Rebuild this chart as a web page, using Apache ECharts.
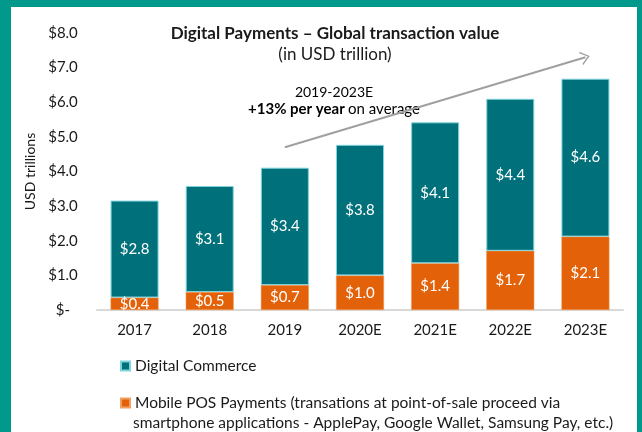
<!DOCTYPE html>
<html>
<head>
<meta charset="utf-8">
<script src="https://cdn.jsdelivr.net/npm/echarts@6/dist/echarts.min.js"></script>
<style>
  html, body { margin: 0; padding: 0; }
  .frame { width: 642px; height: 432px; background: #00998c; position: relative; overflow: hidden; }
  #chart { position: absolute; left: 11px; top: 7px; width: 626px; height: 425px; background: #fff; }
</style>
</head>
<body>
<div class="frame"><div id="chart"></div></div>
<script>
const years = ['2017', '2018', '2019', '2020E', '2021E', '2022E', '2023E'];
const mobilePos = [0.36, 0.52, 0.72, 1.0, 1.35, 1.71, 2.12];
const digitalCommerce = [2.8, 3.06, 3.39, 3.77, 4.07, 4.39, 4.56];
const yTicks = [0, 1, 2, 3, 4, 5, 6, 7, 8];

const font = 'Lato, "Noto Sans", sans-serif';
const posLine1 = 'Mobile POS Payments (transations at point-of-sale proceed via';
const posLine2 = 'smartphone applications - ApplePay, Google Wallet, Samsung Pay, etc.)';
const posName = posLine1 + ' ' + posLine2;

const chart = echarts.init(document.getElementById('chart'));

const fmt = v => '$' + v.toFixed(1);

chart.setOption({
  animation: false,
  textStyle: {fontFamily: font},
  grid: {left: 86, right: 14, top: 26, bottom: 122},
  graphic: [
    {
      type: 'text', x: 324, y: 18,
      style: {text: 'Digital Payments \u2013 Global transaction value', font: 'bold 17px ' + font, fill: '#1a1a1a', align: 'center'}
    },
    {
      type: 'text', x: 324, y: 39,
      style: {text: '(in USD trillion)', font: '17px ' + font, fill: '#1a1a1a', align: 'center'}
    },
    {
      type: 'text', x: 323, y: 77,
      style: {
        text: '{t|2019-2023E}\n{b|+13% per year} {n|on average}',
        align: 'center',
        rich: {
          t: {fontSize: 14, fontFamily: font, color: '#8a8a98', lineHeight: 17},
          n: {fontSize: 15, fontFamily: font, color: '#8a8a98', lineHeight: 17},
          b: {fontSize: 15, fontFamily: font, fontWeight: 'bold', color: '#747484', lineHeight: 17}
        }
      }
    },
    {
      type: 'text', x: 122, y: 408,
      style: {text: posLine2, font: '15.5px ' + font, fill: '#1a1a1a'}
    }
  ],
  legend: {
    orient: 'vertical',
    left: 104,
    top: 346,
    itemWidth: 9,
    itemHeight: 9,
    itemGap: 21,
    icon: 'rect',
    textStyle: {fontSize: 15.5, color: '#1a1a1a', fontFamily: font},
    formatter: name => name === posName ? posLine1 : name,
    data: ['Digital Commerce', posName]
  },
  xAxis: {
    type: 'category',
    data: years,
    axisLine: {lineStyle: {color: '#d9d9d9', width: 2}},
    axisTick: {show: false},
    axisLabel: {fontSize: 15, color: '#1a1a1a', margin: 13}
  },
  yAxis: {
    type: 'value',
    min: 0,
    max: 8,
    interval: 1,
    name: 'USD trillions',
    nameLocation: 'middle',
    nameGap: 60,
    nameTextStyle: {fontSize: 14, color: '#1a1a1a'},
    axisLine: {show: false},
    splitLine: {show: false},
    axisLabel: {
      fontSize: 15, color: '#1a1a1a', margin: 34, align: 'center',
      formatter: v => yTicks.includes(v) ? (v === 0 ? '$-' : fmt(v)) : ''
    }
  },
  series: [
    {
      name: posName,
      type: 'bar',
      stack: 'total',
      barWidth: 48,
      data: mobilePos,
      itemStyle: {color: '#e36209', borderColor: '#f0a060', borderWidth: 0.5},
      label: {show: true, position: 'inside', color: '#fff', fontSize: 15, formatter: p => fmt(p.value)}
    },
    {
      name: 'Digital Commerce',
      type: 'bar',
      stack: 'total',
      barWidth: 48,
      data: digitalCommerce,
      itemStyle: {color: '#00707a', borderColor: '#7fd3dc', borderWidth: 1},
      label: {show: true, position: 'inside', color: '#fff', fontSize: 15, formatter: p => fmt(p.value)},
      markLine: {
        silent: true,
        symbol: ['none', 'path://M0,10 L5,0 L10,10 L8.8,10 L5,2.4 L1.2,10 Z'],
        symbolSize: [14, 9],
        label: {show: false},
        lineStyle: {color: '#a0a0a0', width: 2, type: 'solid'},
        data: [[{coord: ['2019', 4.7]}, {coord: ['2023E', 7.3]}]]
      }
    }
  ]
});
</script>
</body>
</html>
